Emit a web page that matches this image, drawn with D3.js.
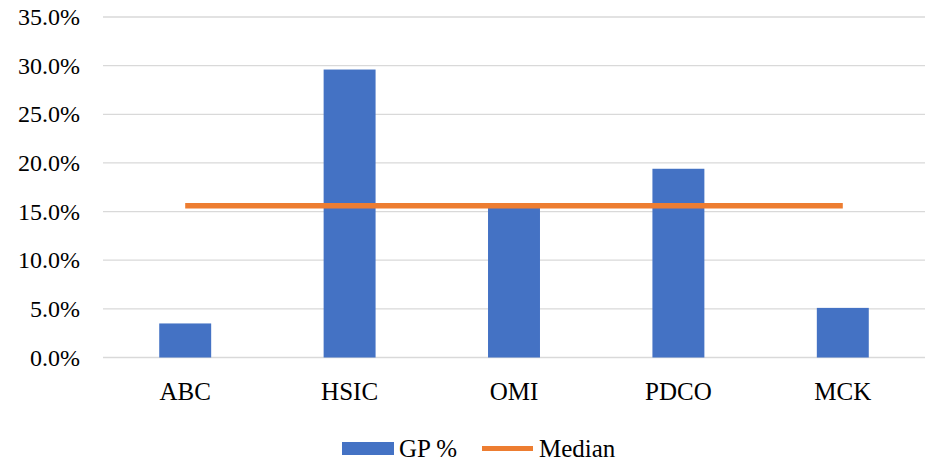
<!DOCTYPE html>
<html><head><meta charset="utf-8">
<script src="https://cdn.jsdelivr.net/npm/d3@7"></script>
<style>body{margin:0;background:#fff}svg{display:block}</style>
</head><body>
<svg id="c" width="931" height="462" font-family="'Liberation Serif', 'DejaVu Serif', serif"></svg>
<script>
const categories = ["ABC","HSIC","OMI","PDCO","MCK"];
const gpValues = [0.035,0.296,0.156,0.194,0.051];
const medianValues = [0.156,0.156,0.156,0.156,0.156];
const yTicks = [0,0.05,0.10,0.15,0.20,0.25,0.30,0.35];
const seriesNames = ["GP %","Median"];

(function(){
const svg = d3.select("#c");
const pL = 103, pR = 925, pT = 17, pB = 357.5;
const x = d3.scaleBand().domain(categories).range([pL,pR]).paddingInner(0.684).paddingOuter(0.342);
const y = d3.scaleLinear().domain([0,0.35]).range([pB,pT]);

const fmt = d3.format(".1%");
svg.append("g").selectAll("line").data(yTicks).join("line")
  .attr("x1",pL).attr("x2",pR)
  .attr("y1",d=>y(d)).attr("y2",d=>y(d))
  .attr("stroke","#d9d9d9").attr("stroke-width",1.3);
svg.append("g").selectAll("text").data(yTicks).join("text")
  .attr("x",80).attr("y",d=>y(d)).attr("dy","0.34em")
  .attr("text-anchor","end").attr("font-size",24).text(d=>fmt(d));

svg.append("g").selectAll("rect").data(gpValues).join("rect")
  .attr("x",(d,i)=>x(categories[i])).attr("width",x.bandwidth())
  .attr("y",d=>y(d)).attr("height",d=>y(0)-y(d))
  .attr("fill","#4472c4");

const line = d3.line().x((d,i)=>x(categories[i])+x.bandwidth()/2).y(d=>y(d));
svg.append("path").datum(medianValues).attr("d",line)
  .attr("fill","none").attr("stroke","#ed7d31").attr("stroke-width",5.5);

svg.append("g").selectAll("text").data(categories).join("text")
  .attr("x",d=>x(d)+x.bandwidth()/2).attr("y",400)
  .attr("text-anchor","middle").attr("font-size",25).text(d=>d);

const lg = svg.append("g");
lg.append("rect").attr("x",342).attr("y",442).attr("width",52).attr("height",13).attr("fill","#4472c4");
lg.append("text").attr("x",399).attr("y",457).attr("font-size",25).text(seriesNames[0]);
lg.append("line").attr("x1",482).attr("x2",533).attr("y1",448.5).attr("y2",448.5).attr("stroke","#ed7d31").attr("stroke-width",5);
lg.append("text").attr("x",539).attr("y",457).attr("font-size",25).text(seriesNames[1]);
})();
</script>
</body></html>
